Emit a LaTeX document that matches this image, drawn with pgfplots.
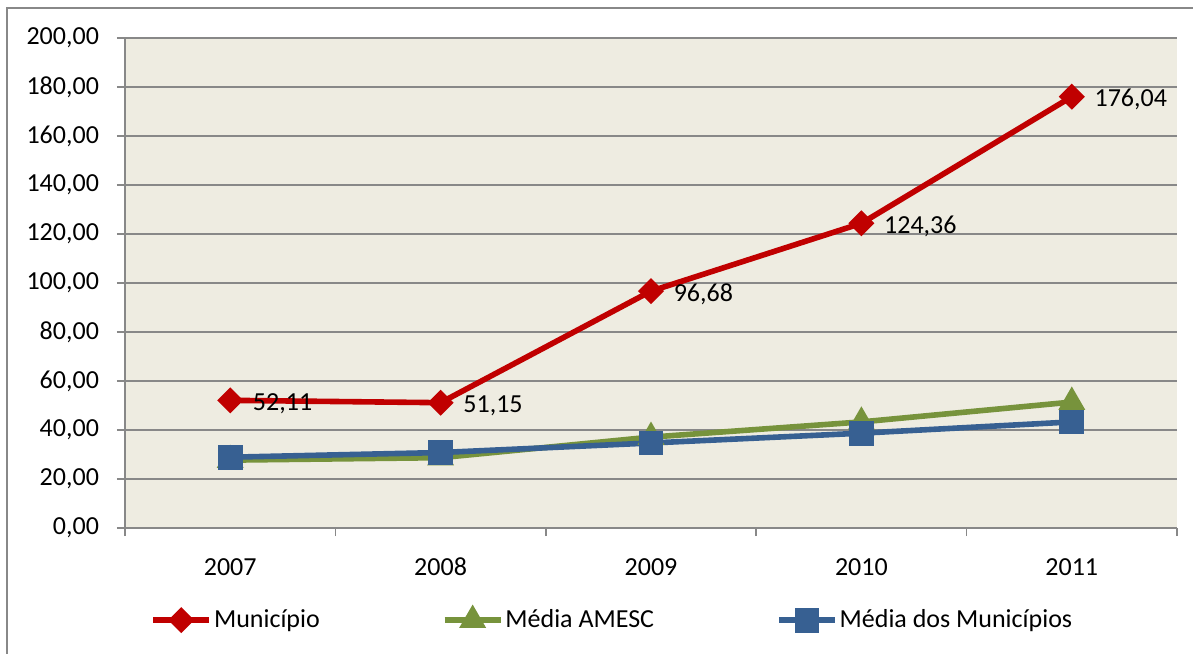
\documentclass[border=0pt]{standalone}
\usepackage{fontspec}
\setmainfont{Carlito}
\usepackage{pgfplots}
\pgfplotsset{compat=1.18}

\definecolor{bgcol}{HTML}{EEECE1}
\definecolor{gridcol}{HTML}{888888}
\definecolor{munred}{HTML}{C00000}
\definecolor{amgreen}{HTML}{77933C}
\definecolor{medblue}{HTML}{376092}

\begin{document}
\fontsize{13pt}{15pt}\selectfont
\begin{tikzpicture}
\useasboundingbox (-62.5pt,-62.5pt) rectangle (534pt,264pt);
\clip (-62.5pt,-62.5pt) rectangle (534pt,264pt);
\draw[gridcol, line width=0.75pt] (-59pt,-90pt) rectangle (570pt,260pt);
\begin{axis}[
	scale only axis,
	width=526pt, height=245pt,
	at={(0pt,0pt)}, anchor=south west,
	xmin=0, xmax=5, ymin=0, ymax=200,
	axis x line*=bottom, axis y line*=left,
	axis line style={gridcol, line width=0.75pt, -},
	axis background/.style={fill=bgcol},
	ymajorgrids,
	grid style={gridcol, line width=0.75pt},
	tick align=outside,
	major tick length=4pt,
	tick style={gridcol, line width=0.75pt},
	xtick={0,1,2,3,4,5},
	x tick label as interval,
	xticklabels={2007,2008,2009,2010,2011},
	xticklabel style={anchor=north, text height=9pt, text depth=0pt, yshift=-6pt},
	ytick={0,20,...,200},
	yticklabel style={/pgf/number format/fixed, /pgf/number format/fixed zerofill,
		/pgf/number format/precision=2, /pgf/number format/use comma,
		/pgf/number format/assume math mode=true, xshift=-4.5pt},
	ticklabel style={font=\fontsize{13pt}{15pt}\selectfont, text=black},
	legend columns=3,
	legend style={draw=none, fill=none, inner sep=0pt,
		at={(0.0238,-0.188)}, anchor=west,
		font=\fontsize{13pt}{15pt}\selectfont,
		nodes={inner sep=1pt},
		/tikz/every even column/.append style={column sep=60pt}},
	legend image code/.code={\draw[mark repeat=2, mark phase=2] plot coordinates {(0pt,0pt) (14pt,0pt) (28pt,0pt)};},
	]
	\addplot[color=munred, line width=2.8pt, mark=square*, mark size=3.2pt,
		mark options={rotate=45, solid},
		nodes near coords={\pgfmathprintnumber[fixed, fixed zerofill, precision=2, use comma, assume math mode=true]{\pgfplotspointmeta}},
		every node near coord/.append style={anchor=west, inner sep=0pt, xshift=10pt, yshift=-1.5pt, text=black, font=\fontsize{13pt}{15pt}\selectfont}]
		coordinates {(0.5,52.11) (1.5,51.15) (2.5,96.68) (3.5,124.36) (4.5,176.04)};
	\addlegendentry{Município}
	\addplot[color=amgreen, line width=2.8pt, mark=triangle*, mark size=5pt]
		coordinates {(0.5,27.7) (1.5,28.7) (2.5,37.1) (3.5,43.3) (4.5,51.4)};
	\addlegendentry{Média AMESC}
	\addplot[color=medblue, line width=2.8pt, mark=square*, mark size=4.8pt]
		coordinates {(0.5,28.9) (1.5,30.8) (2.5,34.7) (3.5,38.7) (4.5,43.3)};
	\addlegendentry{Média dos Municípios}
\end{axis}
\end{tikzpicture}
\end{document}
